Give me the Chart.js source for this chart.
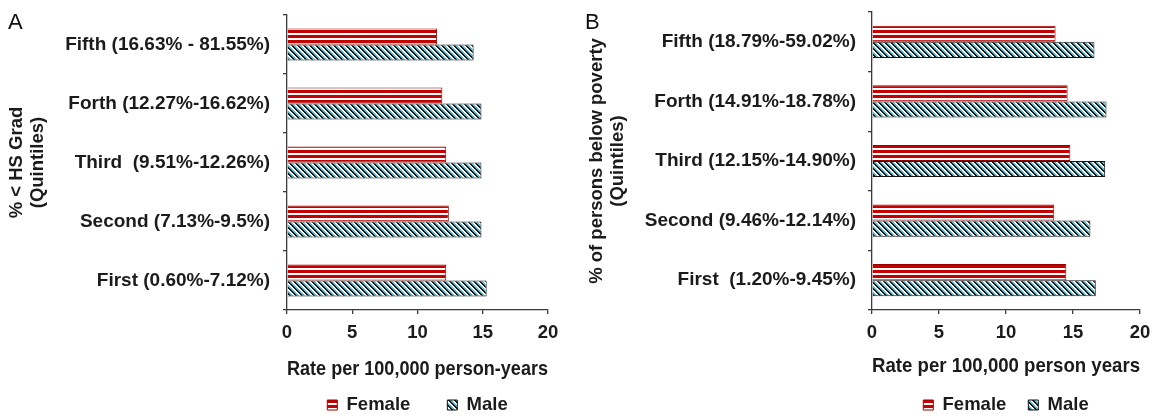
<!DOCTYPE html>
<html>
<head>
<meta charset="utf-8">
<script src="https://cdn.jsdelivr.net/npm/chart.js@4/dist/chart.umd.min.js"></script>
<style>
  html, body { margin: 0; padding: 0; background: #ffffff; }
  #wrap { position: relative; width: 1156px; height: 416px; }
  .panel { position: absolute; top: 0; width: 578px; height: 416px; }
  #panelA { left: 0; }
  #panelB { left: 578px; }
</style>
</head>
<body>
<div id="wrap">
  <div class="panel" id="panelA"><canvas id="chartA" width="578" height="416"></canvas></div>
  <div class="panel" id="panelB"><canvas id="chartB" width="578" height="416"></canvas></div>
</div>
<script>
// Quintile labels (top to bottom) and incidence rates per 100,000 person-years
const educationQuintiles = [
  "Fifth (16.63% - 81.55%)",
  "Forth (12.27%-16.62%)",
  "Third  (9.51%-12.26%)",
  "Second (7.13%-9.5%)",
  "First (0.60%-7.12%)"
];
const educationFemale = [11.5, 11.9, 12.2, 12.4, 12.2];
const educationMale   = [14.3, 14.9, 14.9, 14.9, 15.3];

const povertyQuintiles = [
  "Fifth (18.79%-59.02%)",
  "Forth (14.91%-18.78%)",
  "Third (12.15%-14.90%)",
  "Second (9.46%-12.14%)",
  "First  (1.20%-9.45%)"
];
const povertyFemale = [13.7, 14.6, 14.8, 13.6, 14.5];
const povertyMale   = [16.6, 17.5, 17.4, 16.3, 16.7];

const rateTicks = [0, 5, 10, 15, 20];
const seriesNames = ["Female", "Male"];

const FONT = '"Liberation Sans", Arial, Helvetica, sans-serif';
const TEXT = '#1b1b1b';
const AXIS = '#3a3a3a';

// Hatch fills: horizontal red stripes and diagonal black/cyan stripes
function makeTile(w, h, colorAt) {
  const c = document.createElement('canvas');
  c.width = w; c.height = h;
  const g = c.getContext('2d');
  for (let y = 0; y < h; y++) {
    for (let x = 0; x < w; x++) {
      g.fillStyle = colorAt(x, y);
      g.fillRect(x, y, 1, 1);
    }
  }
  return g.createPattern(c, 'repeat');
}
const femaleFill = makeTile(4, 5, (x, y) => (y % 5) < 3 ? '#c40000' : '#ffffff');
const maleFill = makeTile(6, 6, (x, y) => {
  const d = ((x - y) % 6 + 6) % 6;
  if (d < 2) return '#181818';
  if (d < 4) return '#5cbcd8';
  return '#ffffff';
});

// Draws the panel letter in the top-left corner
const panelLetter = {
  id: 'panelLetter',
  afterDraw(chart, args, opts) {
    const ctx = chart.ctx;
    ctx.save();
    ctx.font = '22px ' + FONT;
    ctx.fillStyle = '#111';
    ctx.textBaseline = 'alphabetic';
    ctx.textAlign = 'left';
    ctx.fillText(opts.text, opts.x, opts.y);
    ctx.restore();
  }
};

function buildPanel(canvasId, p) {
  return new Chart(document.getElementById(canvasId), {
    type: 'bar',
    data: {
      labels: p.categories,
      datasets: [
        { label: seriesNames[0], data: p.female, backgroundColor: femaleFill,
          borderColor: '#9a0000', borderWidth: 1 },
        { label: seriesNames[1], data: p.male, backgroundColor: maleFill,
          borderColor: '#111111', borderWidth: 1 }
      ]
    },
    options: {
      indexAxis: 'y',
      responsive: false,
      animation: false,
      events: [],
      layout: { padding: { left: 0, top: p.top, right: p.right, bottom: -8.25 } },
      datasets: { bar: { categoryPercentage: 0.54, barPercentage: 1.0 } },
      scales: {
        x: {
          min: 0, max: 20,
          afterBuildTicks(scale) { scale.ticks = rateTicks.map(v => ({ value: v })); },
          afterFit(scale) { scale.height = p.xHeight; scale.paddingLeft = 0; scale.paddingRight = 0; },
          border: { display: true, color: AXIS, width: 1.3 },
          grid: { drawOnChartArea: false, drawTicks: true, tickLength: 4, color: AXIS, lineWidth: 1.3 },
          ticks: { padding: 8, color: TEXT, font: { family: FONT, size: 18.5, weight: 'bold' } },
          title: { display: true, text: p.xTitle, color: TEXT,
                   font: { family: FONT, size: 19.3, weight: 'bold', lineHeight: 1.2 },
                   padding: { top: 0, bottom: p.xTitlePad } }
        },
        y: {
          afterFit(scale) { scale.width = p.yWidth; scale.paddingTop = 0; scale.paddingBottom = 0; },
          border: { display: true, color: AXIS, width: 1.3 },
          grid: { drawOnChartArea: false, drawTicks: true, tickLength: 4, color: AXIS, lineWidth: 1.3 },
          ticks: { padding: p.yTickPad, color: TEXT, font: { family: FONT, size: 19, weight: 'bold' } },
          title: { display: true, text: p.yTitle, color: TEXT,
                   font: { family: FONT, size: 18.5, weight: 'bold', lineHeight: 1.15 },
                   padding: { top: p.yTitlePad, bottom: 0 } }
        }
      },
      plugins: {
        legend: {
          position: 'bottom',
          fullSize: false,
          labels: { boxWidth: 10, boxHeight: 10, padding: p.legendPad, color: TEXT,
                    font: { family: FONT, size: 18.5, weight: 'bold' } }
        },
        tooltip: { enabled: false },
        panelLetter: { text: p.letter, x: p.letterX, y: 29 }
      }
    },
    plugins: [panelLetter]
  });
}

buildPanel('chartA', {
  categories: educationQuintiles, female: educationFemale, male: educationMale,
  yTitle: ["% < HS Grad", "(Quintiles)"],
  xTitle: "Rate per 100,000 person-years",
  letter: "A", letterX: 8,
  top: 15, right: 30, yWidth: 287, yTickPad: 13, yTitlePad: 6,
  legendPad: 37, xHeight: 85.75 - 37, xTitlePad: (85.75 - 37) - 60 - 11.6
});

buildPanel('chartB', {
  categories: povertyQuintiles, female: povertyFemale, male: povertyMale,
  yTitle: ["% of persons below poverty", "(Quintiles)"],
  xTitle: "Rate per 100,000 person years",
  letter: "B", letterX: 7,
  top: 12, right: 16, yWidth: 294, yTickPad: 12, yTitlePad: 8,
  legendPad: 22, xHeight: 85.75 - 22, xTitlePad: (85.75 - 22) - 57 - 11.6
});
</script>
</body>
</html>
